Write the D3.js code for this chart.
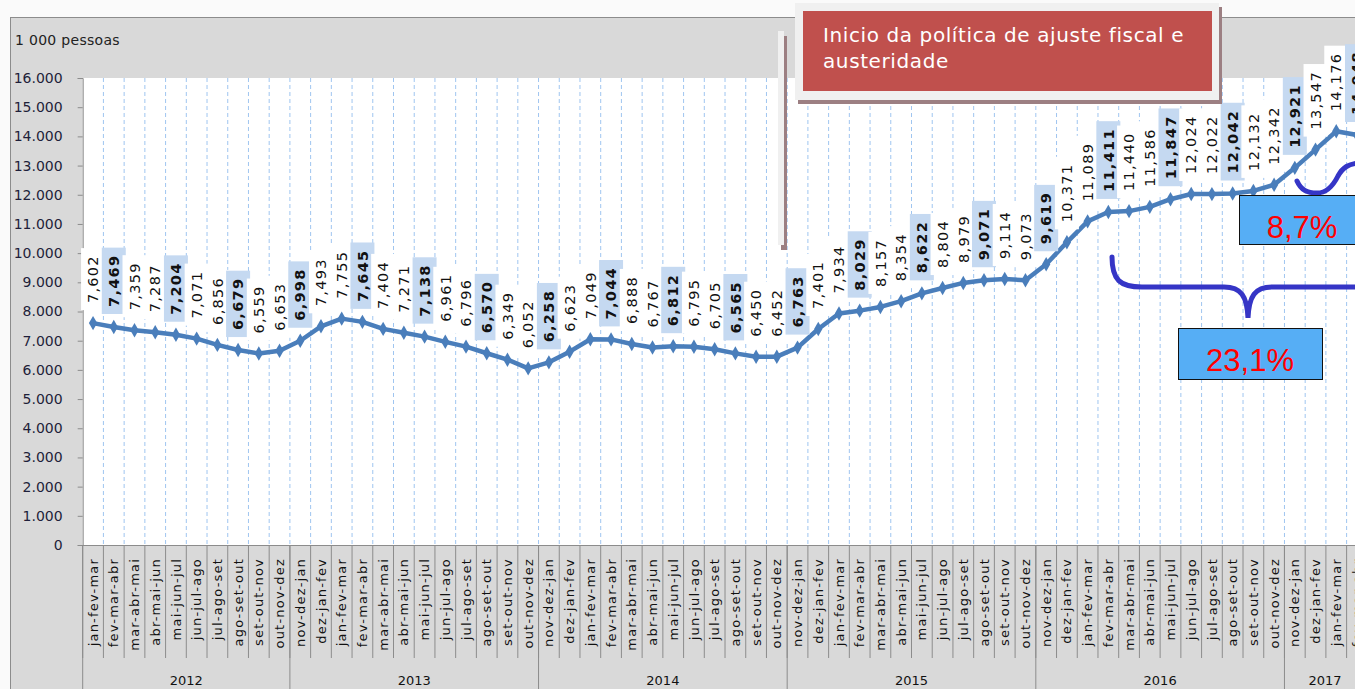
<!DOCTYPE html>
<html><head><meta charset="utf-8">
<script src="https://cdn.jsdelivr.net/npm/d3@7"></script>
<style>body{margin:0;background:#fff;overflow:hidden}</style>
</head><body><svg id="c" width="1355" height="689"></svg>
<script>
// ---------- data ----------
const categories = [
  "jan-fev-mar","fev-mar-abr","mar-abr-mai","abr-mai-jun","mai-jun-jul","jun-jul-ago","jul-ago-set","ago-set-out","set-out-nov","out-nov-dez",
  "nov-dez-jan","dez-jan-fev","jan-fev-mar","fev-mar-abr","mar-abr-mai","abr-mai-jun","mai-jun-jul","jun-jul-ago","jul-ago-set","ago-set-out","set-out-nov","out-nov-dez",
  "nov-dez-jan","dez-jan-fev","jan-fev-mar","fev-mar-abr","mar-abr-mai","abr-mai-jun","mai-jun-jul","jun-jul-ago","jul-ago-set","ago-set-out","set-out-nov","out-nov-dez",
  "nov-dez-jan","dez-jan-fev","jan-fev-mar","fev-mar-abr","mar-abr-mai","abr-mai-jun","mai-jun-jul","jun-jul-ago","jul-ago-set","ago-set-out","set-out-nov","out-nov-dez",
  "nov-dez-jan","dez-jan-fev","jan-fev-mar","fev-mar-abr","mar-abr-mai","abr-mai-jun","mai-jun-jul","jun-jul-ago","jul-ago-set","ago-set-out","set-out-nov","out-nov-dez",
  "nov-dez-jan","dez-jan-fev","jan-fev-mar","fev-mar-abr"
];
// desocupados, 1 000 pessoas
const values = [
  7602,7469,7359,7287,7204,7071,6856,6679,6559,6653,
  6998,7493,7755,7645,7404,7271,7138,6961,6796,6570,6349,6052,
  6258,6623,7049,7044,6888,6767,6812,6795,6705,6565,6450,6452,
  6763,7401,7934,8029,8157,8354,8622,8804,8979,9071,9114,9073,
  9619,10371,11089,11411,11440,11586,11847,12024,12022,12042,12132,12342,
  12921,13547,14176,14048
];
const yTicks = [0,1000,2000,3000,4000,5000,6000,7000,8000,9000,10000,11000,12000,13000,14000,15000,16000];
const yearLabels = ["2012","2013","2014","2015","2016","2017"];
const yearCounts = [10,12,12,12,12,4];
const unitLabel = "1 000 pessoas";
const noteLines = ["Inicio da política de ajuste fiscal e","austeridade"];
const growthLabels = ["23,1%","8,7%"];

// ---------- setup ----------
const svg = d3.select("#c");
const W = 1355, H = 689;
const x0 = 82.7, bw = 20.72;
const plotTop = 78, plotBottom = 545;
const x = d3.scaleBand().domain(d3.range(categories.length)).range([x0, x0 + categories.length*bw]).paddingInner(0).paddingOuter(0);
const y = d3.scaleLinear().domain([0,16000]).range([plotBottom, plotTop]);
const loc = d3.formatLocale({decimal:",", thousands:".", grouping:[3], currency:["R$",""]});
const fTick = loc.format(",.0f");
const fLab = v => loc.format(".3f")(v/1000);
const FONT = "DejaVu Sans, Verdana, sans-serif";

// background
svg.append("rect").attr("width",W).attr("height",H).attr("fill","#fafafa");
svg.append("rect").attr("x",10.5).attr("y",17.5).attr("width",W).attr("height",H)
  .attr("fill","#d9d9d9").attr("stroke","#8c8c8c").attr("stroke-width",1);
svg.append("rect").attr("x",x0).attr("y",plotTop).attr("width",W-x0).attr("height",plotBottom-plotTop).attr("fill","#ffffff");

// unit label
svg.append("text").attr("x",15).attr("y",45).text(unitLabel)
  .attr("font-family",FONT).attr("font-size",14).attr("letter-spacing","0.3px").attr("fill","#222");

// vertical dashed gridlines at band edges
const edges = d3.range(1, categories.length+1).map(i => x0 + i*x.bandwidth());
svg.append("g").selectAll("line").data(edges).join("line")
  .attr("x1",d=>d).attr("x2",d=>d).attr("y1",plotTop).attr("y2",plotBottom)
  .attr("stroke","#9fc5f0").attr("stroke-width",1).attr("stroke-dasharray","4,3");

// y axis
const yAxis = d3.axisLeft(y).tickValues(yTicks).tickFormat(fTick).tickSize(5).tickPadding(15);
const gy = svg.append("g").attr("transform",`translate(${x0},0)`).call(yAxis);
gy.select(".domain").attr("stroke","#8c8c8c");
gy.selectAll(".tick line").attr("stroke","#8c8c8c");
gy.selectAll("text").attr("font-family",FONT).attr("font-size",14).attr("fill","#1f1f3a");

// x axis (categories)
const gx = svg.append("g");
gx.append("line").attr("x1",x0).attr("x2",W).attr("y1",plotBottom+0.5).attr("y2",plotBottom+0.5).attr("stroke","#8c8c8c");
const tickEdges = d3.range(0, categories.length+1).map(i => x0 + i*x.bandwidth());
gx.selectAll("line.t").data(tickEdges).join("line").attr("class","t")
  .attr("x1",d=>d).attr("x2",d=>d).attr("y1",plotBottom).attr("y2",658)
  .attr("stroke","#8c8c8c");
gx.selectAll("text.c").data(categories).join("text").attr("class","c")
  .attr("transform",(d,i)=>`translate(${x(i)+x.bandwidth()/2},558) rotate(-90)`)
  .attr("text-anchor","end").attr("dy","0.35em")
  .attr("font-family",FONT).attr("font-size",13)
  .attr("letter-spacing","1.2px").attr("fill","#111").text(d=>d);

// year groups
let cum = 0;
const groups = yearLabels.map((lab,k)=>{ const g = {lab, start:cum, end:cum+yearCounts[k]}; cum += yearCounts[k]; return g; });
gx.selectAll("line.g").data(groups).join("line").attr("class","g")
  .attr("x1",d=>x0 + d.start*x.bandwidth()).attr("x2",d=>x0 + d.start*x.bandwidth())
  .attr("y1",plotBottom).attr("y2",H).attr("stroke","#8c8c8c");
gx.selectAll("text.y").data(groups).join("text").attr("class","y")
  .attr("x",d=>Math.min(x0 + (d.start+d.end)/2*x.bandwidth(), 1325)).attr("y",685)
  .attr("text-anchor","middle").attr("font-family",FONT)
  .attr("font-size",13).attr("fill","#111").text(d=>d.lab);

// line
const cx = i => x(i) + x.bandwidth()/2;
const line = d3.line().x((d,i)=>cx(i)).y(d=>y(d));
svg.append("path").datum(values).attr("d",line).attr("fill","none")
  .attr("stroke","#4a7ebb").attr("stroke-width",4.5).attr("stroke-linejoin","round");
svg.append("g").selectAll("path").data(values).join("path")
  .attr("transform",(d,i)=>`translate(${cx(i)},${y(d)})`)
  .attr("d",d3.symbol().type(d3.symbolDiamond).size(60)).attr("fill","#4a7ebb");

// data labels
const lg = svg.append("g");
values.forEach((v,i)=>{
  const bold = (i % 3) === 1;
  const g = lg.append("g");
  const px = cx(i), py = y(v) - 20;
  const r = g.append("rect");
  const t = g.append("text")
    .attr("transform",`translate(${px},${py}) rotate(-90)`)
    .attr("dy","0.36em").attr("text-anchor","start")
    .attr("font-family",FONT).attr("font-size",14.5)
    .attr("font-weight",bold?"bold":"normal").attr("letter-spacing","1.3px")
    .attr("fill","#111").text(fLab(v));
  const len = t.node().getComputedTextLength();
  r.attr("x",px-12).attr("width",24).attr("y",py-len-7).attr("height",len+14)
    .attr("fill",bold?"#c5d9f1":"#ffffff");
});

// vertical marker bar
svg.append("rect").attr("x",781).attr("y",36).attr("width",6).attr("height",214).attr("fill","#9c7f82");
svg.append("rect").attr("x",778).attr("y",31).attr("width",6).attr("height",214).attr("fill","#f0f0f0");

// annotation box
svg.append("rect").attr("x",798).attr("y",7).attr("width",424).attr("height",97).attr("fill","#9c7f82");
svg.append("rect").attr("x",795).attr("y",3).attr("width",424).attr("height",97).attr("fill","#f0f0f0");
svg.append("rect").attr("x",803).attr("y",11).attr("width",409).attr("height",80).attr("fill","#c0504d");
svg.append("g").selectAll("text").data(noteLines).join("text")
  .attr("x",823).attr("y",(d,i)=>42+i*25.5).text(d=>d)
  .attr("font-family",FONT).attr("font-size",20).attr("letter-spacing","0.6px").attr("fill","#ffffff");

// braces
svg.append("path")
  .attr("d","M1112,257 C1112,280 1120,287 1142,287 L1224,287 C1241,287 1247,296 1248,318 C1249,296 1255,287 1272,287 L1360,287")
  .attr("fill","none").attr("stroke","#3535c6").attr("stroke-width",5).attr("stroke-linecap","round");
svg.append("path")
  .attr("d","M1297,181 C1301,190 1307,193 1317,193 C1327,193 1333,186 1338,176 C1343,167 1349,164 1358,163")
  .attr("fill","none").attr("stroke","#3535c6").attr("stroke-width",5).attr("stroke-linecap","round");

// growth boxes
svg.append("rect").attr("x",1178.5).attr("y",328.5).attr("width",144).attr("height",51)
  .attr("fill","#56aef5").attr("stroke","#111").attr("stroke-width",1);
svg.append("text").attr("x",1250).attr("y",371).attr("text-anchor","middle").text(growthLabels[0])
  .attr("font-family","Liberation Sans, Arial, sans-serif").attr("font-size",31).attr("fill","#ff0000");
svg.append("rect").attr("x",1239.5).attr("y",195.5).attr("width",130).attr("height",49)
  .attr("fill","#56aef5").attr("stroke","#111").attr("stroke-width",1);
svg.append("text").attr("x",1302).attr("y",238).attr("text-anchor","middle").text(growthLabels[1])
  .attr("font-family","Liberation Sans, Arial, sans-serif").attr("font-size",31).attr("fill","#ff0000");
</script></body></html>
